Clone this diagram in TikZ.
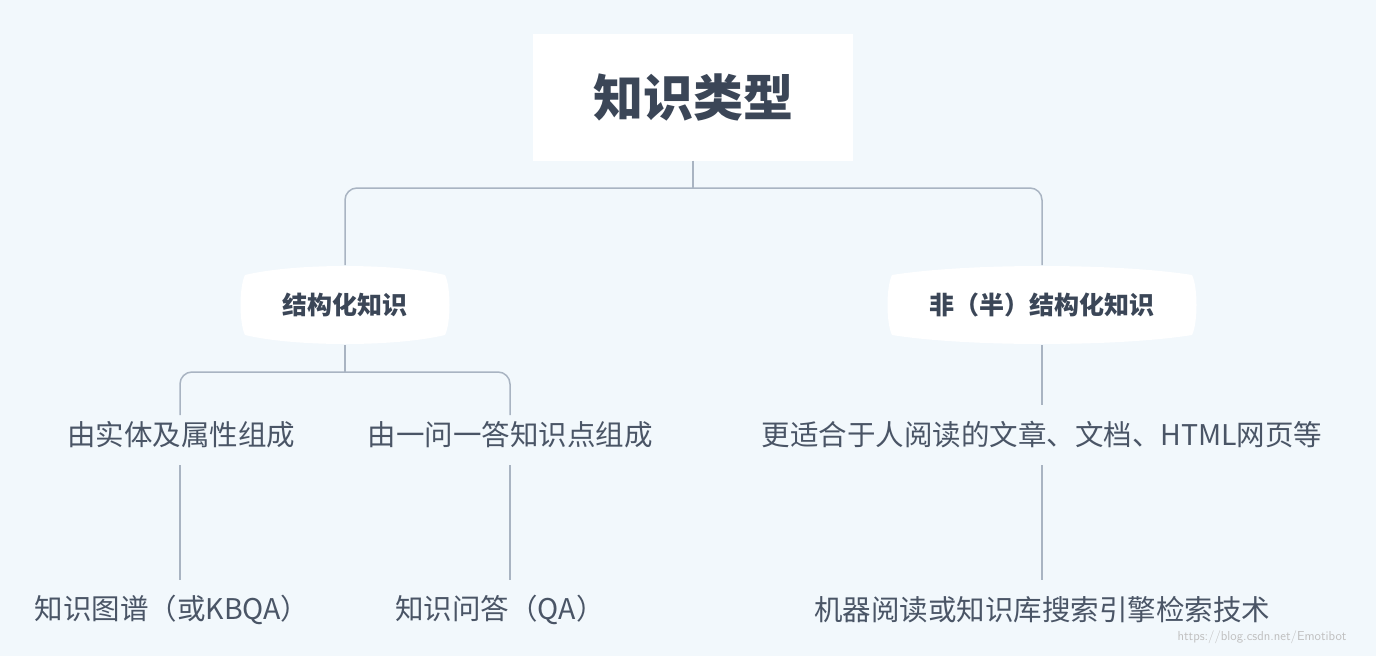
\documentclass[tikz,border=0pt]{standalone}
\usepackage{fontspec}
\setmainfont{Noto Sans CJK SC}
\definecolor{bg}{HTML}{F2F8FC}
\definecolor{ln}{HTML}{A9B4C2}
\definecolor{tx}{HTML}{4A5566}
\definecolor{tt}{HTML}{3B4657}
\tikzset{
  lbl/.style={text=tx,font=\fontsize{28.5}{31}\selectfont,inner sep=0pt},
  conn/.style={draw=ln,line width=1.5pt,rounded corners=12pt},
  sconn/.style={draw=ln,line width=1.5pt},
}
\newcommand{\barrel}[5]{% name, cx, cy, halfwidth, text
  \fill[white] (#2-#4,#3-30) .. controls (#2-#4/2,#3-42) and (#2+#4/2,#3-42) .. (#2+#4,#3-30)
    .. controls (#2+#4+6,#3-18) and (#2+#4+6,#3+18) .. (#2+#4,#3+30)
    .. controls (#2+#4/2,#3+42) and (#2-#4/2,#3+42) .. (#2-#4,#3+30)
    .. controls (#2-#4-6,#3+18) and (#2-#4-6,#3-18) .. cycle;
  \node[text=tt,font=\fontsize{25}{28}\selectfont\bfseries,inner sep=0pt,minimum width=2*#4,minimum height=80] (#1) at (#2,#3) {#5};
}
\begin{document}
\begin{tikzpicture}[x=1pt,y=-1pt]
\fill[bg] (0,0) rectangle (1376,656);
\useasboundingbox (0,0) rectangle (1376,656);
\node[fill=white,minimum width=320,minimum height=127,inner sep=0pt,text=tt,font=\fontsize{50}{54}\selectfont\bfseries] (title) at (693,97) {知识类型};
\barrel{s}{345}{305}{100}{结构化知识}
\barrel{u}{1042}{305}{150}{非（半）结构化知识}
\node[lbl] (a) at (181,435) {由实体及属性组成};
\node[lbl] (b) at (510,435) {由一问一答知识点组成};
\node[lbl] (c) at (1042,435) {更适合于人阅读的文章、文档、HTML网页等};
\node[lbl] (a2) at (172,610) {知识图谱（或KBQA）};
\node[lbl] (b2) at (500,610) {知识问答（QA）};
\node[lbl] (c2) at (1042,610) {机器阅读或知识库搜索引擎检索技术};
\node[text=black!25,font=\fontsize{13}{15}\selectfont\sffamily,inner sep=0pt] (wm) at (1262,637) {https://blog.csdn.net/Emotibot};
\coordinate (j1) at (693,188);
\coordinate (j2) at (345,372);
\draw[sconn] (title.south) -- (j1);
\draw[conn] (j1) -| (345,265);
\draw[conn] (j1) -| (1042,265);
\draw[sconn] (345,345) -- (j2);
\draw[conn] (j2) -| (180,415);
\draw[conn] (j2) -| (510,415);
\draw[sconn] (1042,345) -- (1042,405);
\draw[sconn] (180,465) -- (180,580);
\draw[sconn] (510,465) -- (510,580);
\draw[sconn] (1042,465) -- (1042,580);
\end{tikzpicture}
\end{document}
